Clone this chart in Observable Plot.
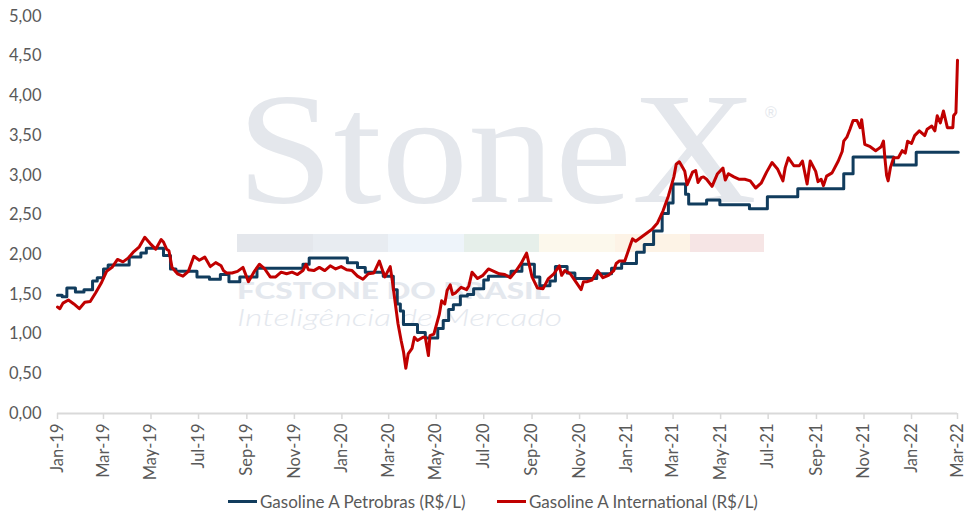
<!DOCTYPE html>
<html>
<head>
<meta charset="utf-8">
<script src="https://cdn.jsdelivr.net/npm/d3@7"></script>
<script src="https://cdn.jsdelivr.net/npm/@observablehq/plot@0.6"></script>
<style>
  body { margin: 0; background: white; }
  #wrap { position: relative; width: 975px; height: 527px; font-family: Lato, sans-serif; }
  #wm, #chart { position: absolute; left: 0; top: 0; }
  .leg { position: absolute; top: 491px; font-size: 17px; color: #595959; display: flex; align-items: center; white-space: nowrap; }
  .leg span.sw { display: inline-block; width: 29px; height: 3px; margin-right: 3px; }
</style>
</head>
<body>
<div id="wrap">
  <svg id="wm" width="975" height="527">
    <text x="237" y="202" font-family="Liberation Serif" font-size="158" fill="#e4e7ec" textLength="520" lengthAdjust="spacingAndGlyphs">StoneX</text>
    <text x="765" y="118" font-family="Liberation Sans" font-size="16" fill="#e4e7ec">®</text>
    <rect x="237" y="234" width="76" height="18" fill="#e4e7ec"></rect>
    <rect x="313" y="234" width="75" height="18" fill="#e8ecf1"></rect>
    <rect x="388" y="234" width="76" height="18" fill="#eef4fa"></rect>
    <rect x="464" y="234" width="75" height="18" fill="#e6efea"></rect>
    <rect x="539" y="234" width="76" height="18" fill="#fcf8ec"></rect>
    <rect x="615" y="234" width="75" height="18" fill="#fdf3e6"></rect>
    <rect x="690" y="234" width="74" height="18" fill="#f6e5e5"></rect>
    <text x="237" y="299" font-family="Lato" font-weight="900" font-size="22" fill="#e4e8ee" textLength="313" lengthAdjust="spacingAndGlyphs">FCSTONE DO BRASIL</text>
    <text x="237" y="326" font-family="Lato" font-style="italic" font-weight="300" font-size="24" fill="#e4e8ee" textLength="325" lengthAdjust="spacingAndGlyphs">Inteligência de Mercado</text>
  </svg>
  <div id="chart"></div>
  <div class="leg" style="left:228px"><span class="sw" style="background:#113c5d"></span>Gasoline A Petrobras (R$/L)</div>
  <div class="leg" style="left:497px"><span class="sw" style="background:#c00000"></span>Gasoline A International (R$/L)</div>
</div>
<script>
// Petrobras: preço vigente a partir de cada data (degraus)
const petroDates = [
  "2019-01-01","2019-01-07","2019-01-13","2019-01-24","2019-02-04","2019-02-15","2019-02-21","2019-03-01",
  "2019-03-07","2019-04-03","2019-04-18","2019-04-25","2019-05-17","2019-05-26","2019-06-02","2019-06-29",
  "2019-07-15","2019-07-29","2019-08-09","2019-08-23","2019-09-14","2019-11-12","2019-11-20","2020-01-08",
  "2020-01-21","2020-01-31","2020-02-23","2020-03-07","2020-03-12","2020-03-16","2020-03-20","2020-04-07",
  "2020-04-17","2020-05-03","2020-05-10","2020-05-17","2020-05-23","2020-06-01","2020-06-10","2020-06-18",
  "2020-07-01","2020-07-07","2020-08-05","2020-08-19","2020-09-04","2020-09-11","2020-09-24","2020-10-01",
  "2020-10-16","2020-10-26","2020-11-23","2020-12-12","2020-12-25","2021-01-13","2021-01-23","2021-02-04",
  "2021-02-15","2021-02-23","2021-03-01","2021-03-17","2021-03-21","2021-04-13","2021-04-30","2021-06-07",
  "2021-06-30","2021-08-08","2021-10-06","2021-10-18","2021-12-09","2022-01-07","2022-03-02"
];
const petroValues = [
  1.49,1.47,1.58,1.53,1.56,1.67,1.71,1.82,
  1.87,1.97,2.02,2.08,1.99,1.82,1.79,1.72,
  1.69,1.75,1.66,1.72,1.83,1.88,1.96,1.90,
  1.84,1.78,1.73,1.56,1.38,1.29,1.12,1.02,
  0.95,1.07,1.17,1.31,1.37,1.48,1.50,1.57,
  1.68,1.73,1.79,1.88,1.72,1.61,1.67,1.85,
  1.77,1.70,1.76,1.83,1.89,2.03,2.13,2.30,
  2.52,2.65,2.89,2.76,2.64,2.69,2.63,2.58,
  2.73,2.83,3.02,3.23,3.13,3.29,3.29
];

// Paridade internacional
const intlDates = [
  "2019-01-01","2019-01-04","2019-01-08","2019-01-15","2019-01-22","2019-01-29","2019-02-05","2019-02-12",
  "2019-02-19","2019-02-26","2019-03-05","2019-03-12","2019-03-19","2019-03-26","2019-04-02","2019-04-09",
  "2019-04-16","2019-04-23","2019-04-30","2019-05-07","2019-05-14","2019-05-17","2019-05-21","2019-05-24",
  "2019-05-28","2019-06-04","2019-06-11","2019-06-18","2019-06-25","2019-07-02","2019-07-09","2019-07-16",
  "2019-07-23","2019-07-30","2019-08-02","2019-08-06","2019-08-13","2019-08-20","2019-08-27","2019-09-03",
  "2019-09-10","2019-09-17","2019-09-24","2019-10-01","2019-10-08","2019-10-15","2019-10-22","2019-10-29",
  "2019-11-05","2019-11-12","2019-11-16","2019-11-19","2019-11-26","2019-12-03","2019-12-10","2019-12-17",
  "2019-12-24","2019-12-31","2020-01-07","2020-01-14","2020-01-21","2020-01-28","2020-02-04","2020-02-11",
  "2020-02-18","2020-02-25","2020-03-03","2020-03-06","2020-03-10","2020-03-13","2020-03-17","2020-03-20",
  "2020-03-23","2020-03-26","2020-03-31","2020-04-03","2020-04-07","2020-04-14","2020-04-17","2020-04-21",
  "2020-04-23","2020-04-28","2020-05-05","2020-05-08","2020-05-12","2020-05-15","2020-05-19","2020-05-22",
  "2020-05-26","2020-06-02","2020-06-09","2020-06-12","2020-06-16","2020-06-23","2020-06-30","2020-07-07",
  "2020-07-14","2020-07-21","2020-07-28","2020-08-04","2020-08-11","2020-08-18","2020-08-25","2020-08-28",
  "2020-09-01","2020-09-08","2020-09-15","2020-09-22","2020-09-29","2020-10-06","2020-10-09","2020-10-13",
  "2020-10-20","2020-10-27","2020-11-03","2020-11-06","2020-11-10","2020-11-17","2020-11-24","2020-12-01",
  "2020-12-08","2020-12-15","2020-12-18","2020-12-22","2020-12-29","2021-01-05","2021-01-08","2021-01-12",
  "2021-01-19","2021-01-26","2021-02-02","2021-02-09","2021-02-16","2021-02-23","2021-03-02","2021-03-05",
  "2021-03-09","2021-03-12","2021-03-16","2021-03-19","2021-03-23","2021-03-26","2021-03-30","2021-04-02",
  "2021-04-06","2021-04-09","2021-04-13","2021-04-20","2021-04-27","2021-05-04","2021-05-07","2021-05-11",
  "2021-05-18","2021-05-25","2021-06-01","2021-06-08","2021-06-15","2021-06-22","2021-06-29","2021-07-06",
  "2021-07-13","2021-07-20","2021-07-23","2021-07-27","2021-08-03","2021-08-10","2021-08-14","2021-08-20",
  "2021-08-24","2021-08-31","2021-09-03","2021-09-07","2021-09-10","2021-09-14","2021-09-21","2021-09-29",
  "2021-10-04","2021-10-06","2021-10-10","2021-10-14","2021-10-18","2021-10-23","2021-10-27","2021-10-29",
  "2021-11-02","2021-11-09","2021-11-16","2021-11-19","2021-11-23","2021-11-26","2021-11-28","2021-11-30",
  "2021-12-02","2021-12-05","2021-12-09","2021-12-15","2021-12-20","2021-12-24","2021-12-27","2022-01-01",
  "2022-01-05","2022-01-11","2022-01-18","2022-01-21","2022-01-27","2022-01-31","2022-02-03","2022-02-07",
  "2022-02-11","2022-02-16","2022-02-23","2022-02-24","2022-02-27","2022-03-01"
];
const intlValues = [
  1.34,1.32,1.39,1.43,1.38,1.32,1.40,1.41,
  1.52,1.64,1.79,1.84,1.94,1.91,1.96,2.04,
  2.10,2.22,2.14,2.07,2.19,2.16,2.07,2.05,
  1.84,1.76,1.73,1.79,1.98,1.93,1.97,1.85,
  1.90,1.86,1.80,1.77,1.77,1.79,1.84,1.66,
  1.78,1.88,1.82,1.72,1.72,1.78,1.76,1.78,
  1.75,1.80,1.88,1.81,1.80,1.84,1.80,1.86,
  1.82,1.85,1.81,1.80,1.73,1.69,1.76,1.77,
  1.92,1.72,1.85,1.65,1.35,1.13,0.92,0.78,
  0.57,0.75,0.82,0.96,0.92,0.96,0.96,0.73,
  0.98,1.00,1.25,1.42,1.38,1.55,1.62,1.50,
  1.52,1.59,1.56,1.61,1.78,1.70,1.74,1.82,
  1.79,1.76,1.75,1.71,1.79,1.89,2.02,1.89,
  1.72,1.58,1.57,1.70,1.76,1.86,1.74,1.80,
  1.76,1.66,1.56,1.66,1.66,1.68,1.80,1.71,
  1.74,1.80,1.89,1.92,1.92,2.12,2.20,2.17,
  2.22,2.27,2.32,2.40,2.55,2.74,2.98,3.14,
  3.17,3.12,3.05,2.88,2.97,3.04,3.06,2.91,
  2.97,2.98,2.95,2.86,3.02,3.09,2.94,3.02,
  2.98,2.95,2.95,2.93,2.84,2.90,3.04,3.16,
  3.08,2.93,3.10,3.22,3.12,3.12,3.18,2.89,
  3.18,3.05,2.92,2.95,2.87,2.99,3.03,3.18,
  3.30,3.43,3.48,3.58,3.69,3.69,3.60,3.70,
  3.39,3.36,3.31,3.33,3.36,3.43,3.20,3.00,
  2.93,3.10,3.22,3.22,3.31,3.28,3.43,3.40,
  3.50,3.56,3.50,3.58,3.62,3.56,3.75,3.66,
  3.81,3.60,3.60,3.75,3.79,4.45
];

const yTicks = [0, 0.5, 1, 1.5, 2, 2.5, 3, 3.5, 4, 4.5, 5];

const petro = petroDates.map((d, i) => ({date: new Date(d), value: petroValues[i]}));
const intl = intlDates.map((d, i) => ({date: new Date(d), value: intlValues[i]}));

const start = new Date("2019-01-01"), end = new Date("2022-03-01");
const xTicks = d3.utcMonth.every(2).range(start, d3.utcDay.offset(end, 1));

let chart = Plot.plot({
  width: 975,
  height: 527,
  marginLeft: 57,
  marginRight: 18,
  marginTop: 16,
  marginBottom: 114,
  style: {background: "transparent", fontFamily: "Lato, sans-serif", fontSize: "16.5px", color: "#595959"},
  x: {type: "utc", domain: [start, end]},
  y: {domain: [0, 5]},
  marks: [
    Plot.ruleY([0], {stroke: "#d9d9d9", strokeWidth: 2}),
    Plot.axisY({ticks: yTicks, tickSize: 0, tickPadding: 16, label: null,
      tickFormat: d => d.toFixed(2).replace(".", ",")}),
    Plot.axisX({ticks: xTicks, tickSize: 6, tickPadding: 4, tickRotate: -90, label: null,
      stroke: "#d9d9d9", strokeWidth: 1.5, tickFormat: d3.utcFormat("%b-%y")}),
    Plot.line(petro, {x: "date", y: "value", curve: "step-after", stroke: "#113c5d", strokeWidth: 3}),
    Plot.line(intl, {x: "date", y: "value", stroke: "#c00000", strokeWidth: 3})
  ]
});

d3.select("#chart").append(() => chart);
</script>
</body>
</html>
